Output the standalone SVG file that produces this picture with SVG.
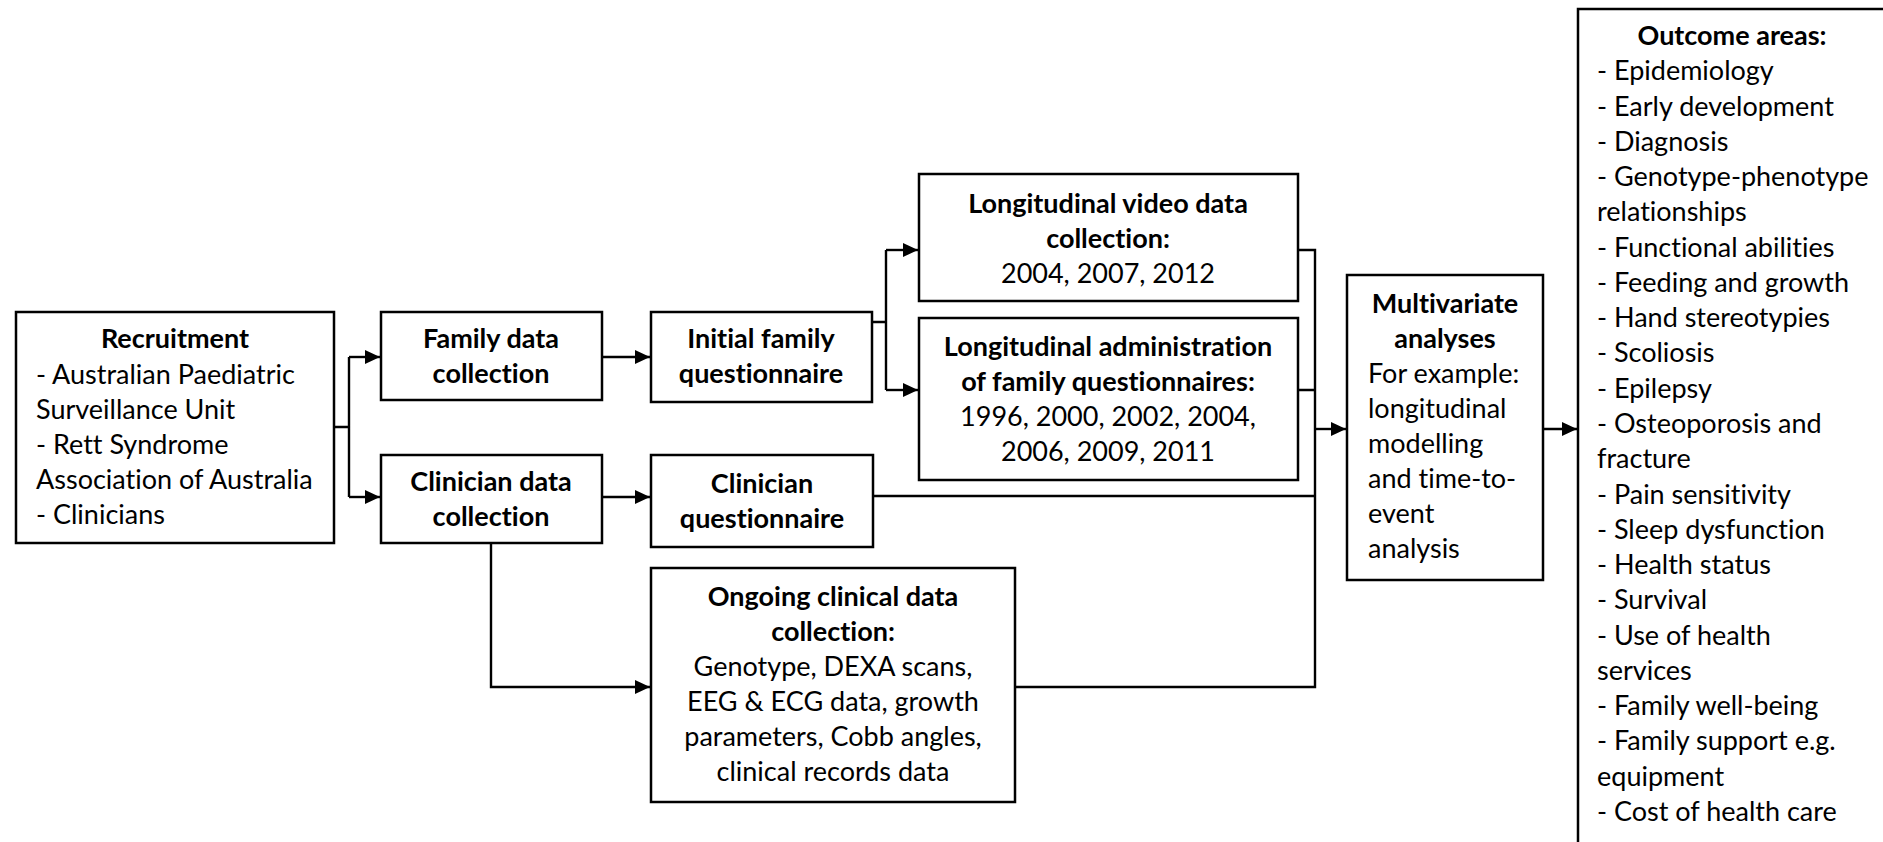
<svg xmlns="http://www.w3.org/2000/svg" width="1883" height="842" viewBox="0 0 1883 842">
<style>
.box{fill:#fff;stroke:#000;stroke-width:2.5}
.ln{fill:none;stroke:#000;stroke-width:2.4}
text{font-family:Lato,"Liberation Sans",sans-serif;font-size:27px;fill:#000;font-variant-ligatures:none}
.b{font-weight:bold}
.c{text-anchor:middle}
</style>
<defs>
<marker id="ah" markerUnits="userSpaceOnUse" markerWidth="16" markerHeight="14" refX="15" refY="7" orient="auto">
<path d="M0,0 L15,7 L0,14 Z" fill="#000"/>
</marker>
</defs>
<rect width="1883" height="842" fill="#fff"/>
<g id="connectors">
<path class="ln" d="M334,427 H349 M349,357 V497"/>
<path class="ln" d="M349,357 H380" marker-end="url(#ah)"/>
<path class="ln" d="M349,497 H380" marker-end="url(#ah)"/>
<path class="ln" d="M602,357 H650" marker-end="url(#ah)"/>
<path class="ln" d="M602,497 H650" marker-end="url(#ah)"/>
<path class="ln" d="M491,543 V687 H650" marker-end="url(#ah)"/>
<path class="ln" d="M872,322 H886 M886,250 V390"/>
<path class="ln" d="M886,250 H918" marker-end="url(#ah)"/>
<path class="ln" d="M886,390 H918" marker-end="url(#ah)"/>
<path class="ln" d="M1298,250 H1315 V687 H1015 M1298,390 H1315 M873,496 H1315"/>
<path class="ln" d="M1315,429 H1346" marker-end="url(#ah)"/>
<path class="ln" d="M1543,429 H1577" marker-end="url(#ah)"/>
</g>
<g id="recruitment">
<rect class="box" x="16" y="312" width="318" height="231"/>
<text class="b c" x="175" y="348">Recruitment</text>
<text x="36" y="384">- Australian Paediatric</text>
<text x="36" y="419">Surveillance Unit</text>
<text x="36" y="454">- Rett Syndrome</text>
<text x="36" y="489">Association of Australia</text>
<text x="36" y="524">- Clinicians</text>
</g>
<g id="family-data">
<rect class="box" x="381" y="312" width="221" height="88"/>
<text class="b c" x="491" y="348">Family data</text>
<text class="b c" x="491" y="383">collection</text>
</g>
<g id="clinician-data">
<rect class="box" x="381" y="455" width="221" height="88"/>
<text class="b c" x="491" y="491">Clinician data</text>
<text class="b c" x="491" y="526">collection</text>
</g>
<g id="initial-family">
<rect class="box" x="651" y="312" width="221" height="90"/>
<text class="b c" x="761" y="348">Initial family</text>
<text class="b c" x="761" y="383">questionnaire</text>
</g>
<g id="clinician-questionnaire">
<rect class="box" x="651" y="455" width="222" height="92"/>
<text class="b c" x="762" y="493">Clinician</text>
<text class="b c" x="762" y="528">questionnaire</text>
</g>
<g id="video">
<rect class="box" x="919" y="174" width="379" height="127"/>
<text class="b c" x="1108" y="213">Longitudinal video data</text>
<text class="b c" x="1108" y="248">collection:</text>
<text class="c" x="1108" y="283">2004, 2007, 2012</text>
</g>
<g id="administration">
<rect class="box" x="919" y="318" width="379" height="162"/>
<text class="b c" x="1108" y="356">Longitudinal administration</text>
<text class="b c" x="1108" y="391">of family questionnaires:</text>
<text class="c" x="1108" y="426">1996, 2000, 2002, 2004,</text>
<text class="c" x="1108" y="461">2006, 2009, 2011</text>
</g>
<g id="ongoing">
<rect class="box" x="651" y="568" width="364" height="234"/>
<text class="b c" x="833" y="606">Ongoing clinical data</text>
<text class="b c" x="833" y="641">collection:</text>
<text class="c" x="833" y="676">Genotype, DEXA scans,</text>
<text class="c" x="833" y="711">EEG &amp; ECG data, growth</text>
<text class="c" x="833" y="746">parameters, Cobb angles,</text>
<text class="c" x="833" y="781">clinical records data</text>
</g>
<g id="multivariate">
<rect class="box" x="1347" y="275" width="196" height="305"/>
<text class="b c" x="1445" y="313">Multivariate</text>
<text class="b c" x="1445" y="348">analyses</text>
<text x="1368" y="383">For example:</text>
<text x="1368" y="418">longitudinal</text>
<text x="1368" y="453">modelling</text>
<text x="1368" y="488">and time-to-</text>
<text x="1368" y="523">event</text>
<text x="1368" y="558">analysis</text>
</g>
<g id="outcomes">
<rect class="box" x="1578" y="9" width="310" height="850"/>
<text class="b c" x="1732" y="45">Outcome areas:</text>
<text x="1597" y="80">- Epidemiology</text>
<text x="1597" y="116">- Early development</text>
<text x="1597" y="151">- Diagnosis</text>
<text x="1597" y="186">- Genotype-phenotype</text>
<text x="1597" y="221">relationships</text>
<text x="1597" y="257">- Functional abilities</text>
<text x="1597" y="292">- Feeding and growth</text>
<text x="1597" y="327">- Hand stereotypies</text>
<text x="1597" y="362">- Scoliosis</text>
<text x="1597" y="398">- Epilepsy</text>
<text x="1597" y="433">- Osteoporosis and</text>
<text x="1597" y="468">fracture</text>
<text x="1597" y="504">- Pain sensitivity</text>
<text x="1597" y="539">- Sleep dysfunction</text>
<text x="1597" y="574">- Health status</text>
<text x="1597" y="609">- Survival</text>
<text x="1597" y="645">- Use of health</text>
<text x="1597" y="680">services</text>
<text x="1597" y="715">- Family well-being</text>
<text x="1597" y="750">- Family support e.g.</text>
<text x="1597" y="786">equipment</text>
<text x="1597" y="821">- Cost of health care</text>
</g>
</svg>
